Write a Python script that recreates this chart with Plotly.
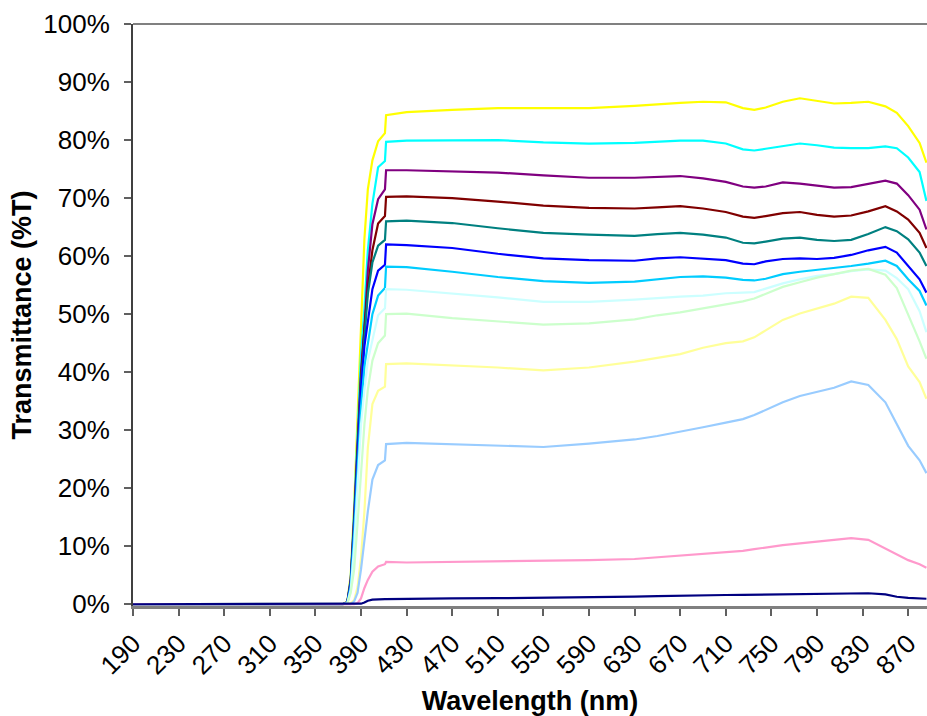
import plotly.graph_objects as go

wavelength = [190, 374, 378, 381, 384, 387, 390, 393, 396, 400, 405, 411, 412,
              430, 470, 510, 550, 590, 630, 650, 670, 690, 710, 725, 735, 745,
              760, 775, 790, 805, 820, 835, 850, 860, 870, 880, 886]

yellow = [0, 0, 0.5, 5, 17, 32, 46, 63, 71.5, 76.5, 79.8, 81.2, 84.3,
          84.8, 85.2, 85.5, 85.5, 85.5, 85.9, 86.2, 86.4, 86.6, 86.5, 85.5, 85.2, 85.6,
          86.6, 87.2, 86.8, 86.3, 86.4, 86.6, 85.8, 84.7, 82.4, 79.5, 76.1]
cyan = [0, 0, 0.4, 4.5, 16, 30, 43, 51, 61, 69, 75.3, 76.4, 79.7,
        79.9, 80.0, 80.0, 79.6, 79.4, 79.5, 79.7, 79.9, 79.9, 79.4, 78.4, 78.2, 78.5,
        79.0, 79.4, 79.1, 78.7, 78.6, 78.6, 78.9, 78.6, 77.0, 74.5, 69.5]
purple = [0, 0, 0.4, 4.3, 15, 29, 40, 47.5, 57.5, 65.5, 69.8, 71.5, 74.8,
          74.8, 74.6, 74.4, 73.9, 73.5, 73.5, 73.7, 73.8, 73.4, 72.8, 72.0, 71.8, 72.0,
          72.7, 72.5, 72.1, 71.8, 71.9, 72.4, 73.0, 72.5, 70.5, 68.0, 64.6]
dark_red = [0, 0, 0.3, 4, 14.5, 28, 39, 47.5, 54.5, 61, 65.6, 66.9, 70.2,
            70.3, 70.0, 69.4, 68.7, 68.3, 68.2, 68.4, 68.6, 68.2, 67.6, 66.8, 66.6, 66.9,
            67.4, 67.6, 67.1, 66.8, 67.0, 67.7, 68.6, 67.7, 66.3, 64.0, 61.4]
teal = [0, 0, 0.3, 3.8, 14, 27, 38, 46, 53.5, 58.9, 61.8, 62.8, 66.0,
        66.1, 65.7, 64.8, 64.0, 63.7, 63.5, 63.8, 64.0, 63.7, 63.2, 62.3, 62.2, 62.5,
        63.0, 63.2, 62.8, 62.6, 62.8, 63.8, 65.0, 64.3, 62.9, 60.6, 58.3]
blue = [0, 0, 0.3, 3.5, 13, 26, 37, 44.5, 49, 54.3, 57.5, 58.5, 62.0,
        61.9, 61.4, 60.4, 59.6, 59.3, 59.2, 59.6, 59.8, 59.6, 59.3, 58.7, 58.6, 59.1,
        59.5, 59.6, 59.5, 59.7, 60.2, 61.0, 61.6, 60.6, 58.3, 56.0, 53.7]
sky_blue = [0, 0, 0.2, 3, 12, 24, 34, 41, 45, 50, 53.2, 54.5, 58.2,
            58.1, 57.3, 56.4, 55.7, 55.4, 55.6, 56.0, 56.4, 56.5, 56.3, 55.9, 55.8, 56.1,
            56.9, 57.3, 57.6, 58.0, 58.3, 58.7, 59.2, 58.3, 56.0, 54.0, 51.5]
light_cyan = [0, 0, 0.2, 2.5, 10, 21, 31, 37, 42, 45.5, 49.8, 51, 54.3,
              54.2, 53.6, 52.9, 52.1, 52.1, 52.5, 52.8, 53.0, 53.2, 53.6, 53.7, 53.8, 54.4,
              55.3, 56.0, 56.6, 56.9, 57.4, 57.7, 57.5, 56.2, 54.3, 50.5, 46.9]
light_green = [0, 0, 0.1, 2, 6, 14, 23, 31, 37, 42, 45, 46.3, 50.0,
               50.1, 49.3, 48.8, 48.2, 48.4, 49.1, 49.8, 50.3, 51.0, 51.7, 52.2, 52.7, 53.5,
               54.7, 55.5, 56.3, 56.9, 57.5, 57.8, 56.8, 54.5, 50.0, 45.3, 42.3]
light_yellow = [0, 0, 0, 0.2, 0.7, 3, 8, 16, 27, 34.5, 36.8, 37.5, 41.4,
                41.5, 41.2, 40.8, 40.3, 40.8, 41.8, 42.5, 43.1, 44.2, 45.0, 45.3, 46.0, 47.2,
                49.0, 50.1, 51.0, 51.8, 53.0, 52.8, 49.0, 45.7, 41.0, 38.3, 35.4]
pale_blue = [0, 0, 0, 0, 0.5, 2, 6, 11, 16, 21.5, 24, 24.8, 27.6,
             27.8, 27.6, 27.4, 27.1, 27.7, 28.4, 29.0, 29.7, 30.5, 31.3, 31.9, 32.6, 33.5,
             34.8, 35.9, 36.6, 37.3, 38.4, 37.8, 34.8, 31.0, 27.3, 24.8, 22.6]
rose = [0, 0, 0, 0, 0, 0.2, 1, 2.8, 4.2, 5.6, 6.5, 6.9, 7.3,
        7.2, 7.3, 7.3, 7.4, 7.6, 7.8, 8.1, 8.4, 8.7, 9.0, 9.2, 9.5, 9.8,
        10.2, 10.5, 10.8, 11.0, 11.4, 11.1, 9.6, 8.5, 7.6, 6.9, 6.3]
navy = [0, 0, 0, 0, 0, 0, 0.1, 0.3, 0.6, 0.8, 0.9, 0.9, 0.9,
        0.9, 1.0, 1.05, 1.1, 1.2, 1.3, 1.4, 1.5, 1.55, 1.6, 1.62, 1.65, 1.68,
        1.7, 1.75, 1.8, 1.85, 1.9, 1.9, 1.7, 1.3, 1.1, 1.0, 0.95]

series = [
    (yellow, "#FFFF00"), (cyan, "#00FFFF"), (purple, "#800080"), (dark_red, "#800000"),
    (teal, "#008080"), (blue, "#0000FF"), (sky_blue, "#00CCFF"), (light_cyan, "#CCFFFF"),
    (light_green, "#CCFFCC"), (light_yellow, "#FFFF99"), (pale_blue, "#99CCFF"),
    (rose, "#FF99CC"), (navy, "#000080"),
]

x_ticks = list(range(190, 871, 40))
y_ticks = list(range(0, 101, 10))

fig = go.Figure()
for vals, col in series:
    fig.add_trace(go.Scatter(x=wavelength, y=vals, mode="lines",
                             line=dict(color=col, width=2.2), showlegend=False,
                             hoverinfo="skip"))

font_family = "Liberation Sans, Arial, sans-serif"
fig.update_layout(
    width=927, height=716,
    margin=dict(l=133, r=0, t=24, b=110),
    paper_bgcolor="white", plot_bgcolor="white",
    font=dict(family=font_family, size=26, color="black"),
    xaxis=dict(
        range=[190, 886.5], tickvals=x_ticks, ticktext=[str(v) for v in x_ticks],
        tickangle=-45, ticks="outside", ticklen=7, tickwidth=2, tickcolor="#606060",
        showline=True, linecolor="#808080", linewidth=3, showgrid=False, zeroline=False,
        tickfont=dict(size=26), automargin=False, ticklabelstandoff=2,
        title=dict(text="<b>Wavelength (nm)</b>", font=dict(size=27), standoff=12),
    ),
    yaxis=dict(
        range=[-0.3, 100], tickvals=y_ticks, ticktext=[f"{v}%" for v in y_ticks],
        ticks="outside", ticklen=7, tickwidth=2, tickcolor="#606060",
        showline=True, linecolor="#404040", linewidth=2, showgrid=False, zeroline=False,
        tickfont=dict(size=26), automargin=False, ticklabelstandoff=9,
        title=dict(text="<b>Transmittance (%T)</b>", font=dict(size=27), standoff=4),
    ),
    shapes=[dict(type="line", xref="paper", yref="paper", x0=0, x1=1, y0=1, y1=1,
                 line=dict(color="#808080", width=2))],
)

fig.write_html(
    "out.html",
    config={"displayModeBar": False},
    post_script="document.body.style.margin='0';document.body.style.overflow='hidden';"
                "document.documentElement.style.overflow='hidden';",
)
